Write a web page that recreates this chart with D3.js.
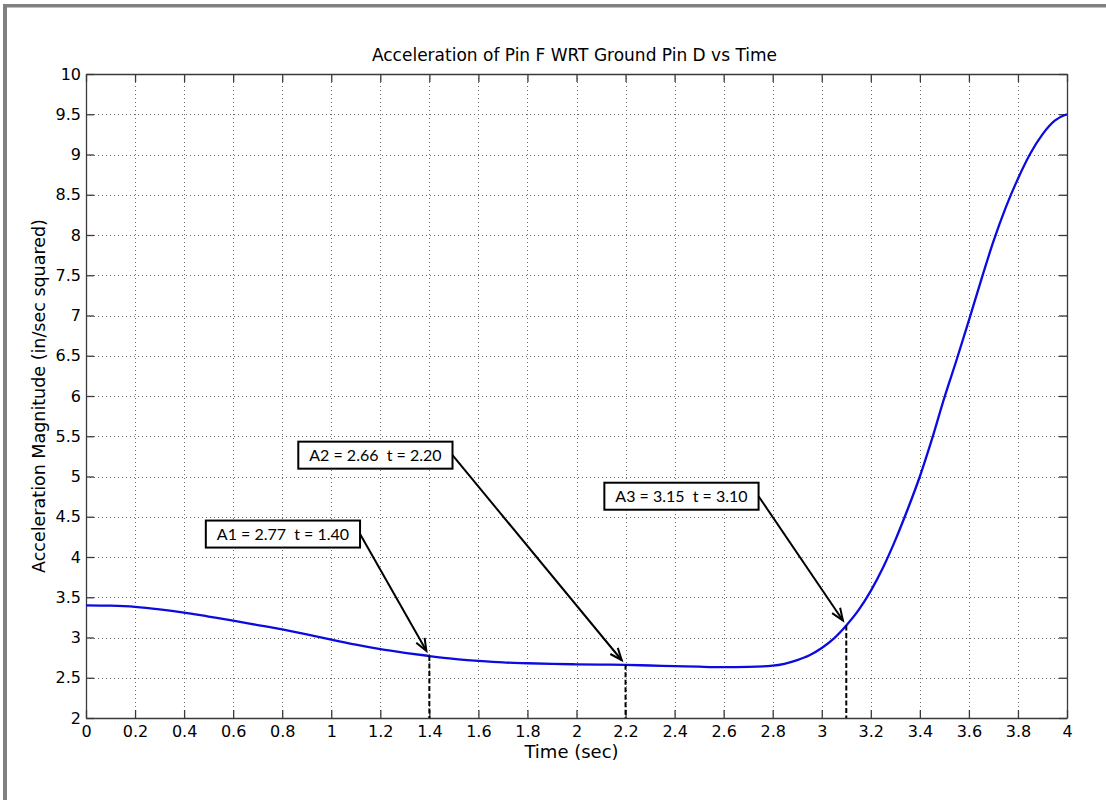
<!DOCTYPE html>
<html>
<head>
<meta charset="utf-8">
<script src="https://cdn.jsdelivr.net/npm/d3@7"></script>
<style>
  html, body { margin: 0; padding: 0; background: #fff; }
  svg { display: block; }
</style>
</head>
<body>
<svg id="chart" width="1106" height="800"></svg>
<script>
// ---- data ----
const timeValues = [0, 0.1, 0.2, 0.3, 0.4, 0.5, 0.6, 0.7, 0.8, 0.9, 1.0, 1.1, 1.2, 1.3, 1.4, 1.5, 1.6, 1.7, 1.8, 1.9, 2.0,
  2.1, 2.2, 2.3, 2.4, 2.5, 2.6, 2.7, 2.8, 2.9, 2.95, 3.0, 3.05, 3.1, 3.15, 3.2, 3.25, 3.3, 3.35, 3.4, 3.45, 3.5, 3.55,
  3.6, 3.65, 3.7, 3.75, 3.8, 3.85, 3.9, 3.95, 4.0];
const accelValues = [3.40, 3.395, 3.38, 3.35, 3.31, 3.26, 3.21, 3.155, 3.10, 3.04, 2.975, 2.91, 2.855, 2.81, 2.77, 2.735, 2.71, 2.69, 2.68, 2.672, 2.667,
  2.663, 2.66, 2.652, 2.645, 2.637, 2.632, 2.635, 2.65, 2.72, 2.78, 2.87, 2.99, 3.15, 3.34, 3.58, 3.87, 4.21, 4.59, 5.00, 5.47, 5.98, 6.45,
  6.94, 7.44, 7.92, 8.34, 8.70, 9.01, 9.25, 9.42, 9.50];
const xTicks = [0, 0.2, 0.4, 0.6, 0.8, 1, 1.2, 1.4, 1.6, 1.8, 2, 2.2, 2.4, 2.6, 2.8, 3, 3.2, 3.4, 3.6, 3.8, 4];
const yTicks = [2, 2.5, 3, 3.5, 4, 4.5, 5, 5.5, 6, 6.5, 7, 7.5, 8, 8.5, 9, 9.5, 10];
const annoLabels = ["A1 = 2.77  t = 1.40", "A2 = 2.66  t = 2.20", "A3 = 3.15  t = 3.10"];
const annoTimes = [1.40, 2.20, 3.10];
const annoAccels = [2.77, 2.66, 3.15];
const annoBoxTimes = [0.803, 1.18, 2.428];   // box centre, in data units
const annoBoxAccels = [4.285, 5.265, 4.755];
const titleText = "Acceleration of Pin F WRT Ground Pin D vs Time";
const xLabelText = "Time (sec)";
const yLabelText = "Acceleration Magnitude (in/sec squared)";

// ---- layout ----
const W = 1106, H = 800;
const M = { left: 86, right: 1067, top: 74, bottom: 718 };
const svg = d3.select("#chart");
const axisFont = "'DejaVu Sans', 'Liberation Sans', Arial, sans-serif";
const annoFont = "Lato, 'Open Sans', sans-serif";

// window frame (top & left grey band)
svg.append("rect").attr("x", 3).attr("y", 4).attr("width", W - 3).attr("height", 3.5).attr("fill", "#808080");
svg.append("rect").attr("x", 3).attr("y", 4).attr("width", 4).attr("height", H - 4).attr("fill", "#808080");

const x = d3.scaleLinear().domain([0, 4]).range([M.left, M.right]);
const y = d3.scaleLinear().domain([2, 10]).range([M.bottom, M.top]);

// grid
const grid = svg.append("g").attr("stroke", "#6a6a6a").attr("stroke-width", 1).attr("stroke-dasharray", "1,3");
grid.selectAll("line.v").data(xTicks.slice(1, -1)).enter().append("line")
  .attr("x1", d => Math.round(x(d)) + 0.5).attr("x2", d => Math.round(x(d)) + 0.5)
  .attr("y1", M.top).attr("y2", M.bottom);
grid.selectAll("line.h").data(yTicks.slice(1, -1)).enter().append("line")
  .attr("y1", d => Math.round(y(d)) + 0.5).attr("y2", d => Math.round(y(d)) + 0.5)
  .attr("x1", M.left).attr("x2", M.right);

// axes (ticks inward on all four sides)
const tickLen = 8;
function styleAxis(g) {
  g.selectAll("path").attr("stroke", "#3a3a3a").attr("stroke-width", 1.3);
  g.selectAll("line").attr("stroke", "#3a3a3a").attr("stroke-width", 1.3);
  g.selectAll("text").attr("fill", "#000").style("font-family", axisFont).style("font-size", "16px");
}
const fmt = d => String(d);
const gx = svg.append("g").attr("transform", `translate(0,${M.bottom})`)
  .call(d3.axisBottom(x).tickValues(xTicks).tickFormat(fmt).tickSizeInner(-tickLen).tickSizeOuter(0).tickPadding(8));
styleAxis(gx);
const gxTop = svg.append("g").attr("transform", `translate(0,${M.top})`)
  .call(d3.axisTop(x).tickValues(xTicks).tickFormat("").tickSizeInner(-tickLen).tickSizeOuter(0));
styleAxis(gxTop);
const gy = svg.append("g").attr("transform", `translate(${M.left},0)`)
  .call(d3.axisLeft(y).tickValues(yTicks).tickFormat(fmt).tickSizeInner(-tickLen).tickSizeOuter(0).tickPadding(5));
styleAxis(gy);
const gyR = svg.append("g").attr("transform", `translate(${M.right},0)`)
  .call(d3.axisRight(y).tickValues(yTicks).tickFormat("").tickSizeInner(-tickLen).tickSizeOuter(0));
styleAxis(gyR);

// titles
svg.append("text").attr("x", (M.left + M.right) / 2 - 2).attr("y", 61).attr("text-anchor", "middle")
  .style("font-family", axisFont).style("font-size", "17px").text(titleText);
svg.append("text").attr("x", (M.left + M.right) / 2 - 5).attr("y", 758).attr("text-anchor", "middle")
  .style("font-family", axisFont).style("font-size", "18px").text(xLabelText);
svg.append("text").attr("transform", `translate(45,${(M.top + M.bottom) / 2}) rotate(-90)`).attr("text-anchor", "middle")
  .style("font-family", axisFont).style("font-size", "17.5px").text(yLabelText);

// curve
const series = timeValues.map((t, i) => ({ t, a: accelValues[i] }));
svg.append("path").datum(series)
  .attr("fill", "none").attr("stroke", "#0b0be0").attr("stroke-width", 2.3)
  .attr("d", d3.line().x(d => x(d.t)).y(d => y(d.a)).curve(d3.curveMonotoneX));

// annotations
const annos = annoLabels.map((label, i) => ({
  label, t: annoTimes[i], a: annoAccels[i], bt: annoBoxTimes[i], ba: annoBoxAccels[i]
}));
const ag = svg.append("g");
annos.forEach(d => {
  const px = x(d.t), py = y(d.a);
  // dashed drop line
  ag.append("line").attr("x1", px).attr("x2", px).attr("y1", py).attr("y2", M.bottom)
    .attr("stroke", "#000").attr("stroke-width", 2).attr("stroke-dasharray", "5,2.5");
  // box + text
  const cx = x(d.bt), cy = y(d.ba);
  const txt = ag.append("text").attr("x", cx).attr("y", cy).attr("dy", "0.36em").attr("text-anchor", "middle")
    .style("font-family", annoFont).style("font-size", "16px").style("white-space", "pre").attr("xml:space", "preserve")
    .text(d.label);
  const tw = txt.node().getComputedTextLength();
  const bw = tw + 22, bh = 27;
  ag.insert("rect", "text").attr("x", cx - bw / 2).attr("y", cy - bh / 2).attr("width", bw).attr("height", bh)
    .attr("fill", "#fff").attr("stroke", "#000").attr("stroke-width", 2);
  // arrow
  const sx = cx + bw / 2, sy = cy;
  const dx = px - sx, dy = py - sy, len = Math.hypot(dx, dy);
  const ux = dx / len, uy = dy / len;
  const ex = px - ux * 6, ey = py - uy * 6;
  ag.append("line").attr("x1", sx).attr("y1", sy).attr("x2", ex).attr("y2", ey)
    .attr("stroke", "#000").attr("stroke-width", 2);
  const hl = 13, ang = 0.38;
  const back = Math.atan2(-uy, -ux);
  const h1 = [ex + hl * Math.cos(back + ang), ey + hl * Math.sin(back + ang)];
  const h2 = [ex + hl * Math.cos(back - ang), ey + hl * Math.sin(back - ang)];
  ag.append("path").attr("d", `M${h1[0]},${h1[1]}L${ex},${ey}L${h2[0]},${h2[1]}`)
    .attr("fill", "none").attr("stroke", "#000").attr("stroke-width", 2);
});
</script>
</body>
</html>
